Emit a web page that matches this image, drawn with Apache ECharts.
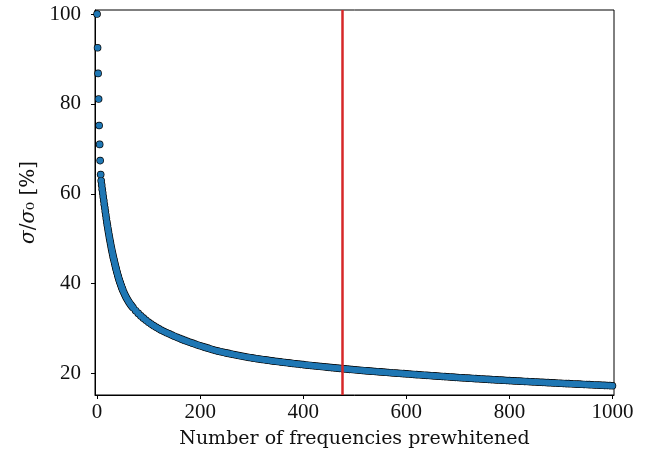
<!DOCTYPE html>
<html>
<head>
<meta charset="utf-8">
<script src="https://cdn.jsdelivr.net/npm/echarts@6/dist/echarts.min.js"></script>
<style>
html,body{margin:0;padding:0;background:#fff;}
#chart{width:656px;height:459px;}
</style>
</head>
<body>
<div id="chart"></div>
<script>
const frequencies = [
  0,1,2,3,4,5,6,7,8,9,10,11,12,13,14,15,16,17,18,19,20,21,22,23,24,25,26,27,28,29,30,
  31,32,33,34,35,36,37,38,39,40,41,42,43,44,45,46,47,48,49,50,
  52,54,56,58,60,62,64,66,68,70,
  75,80,85,90,95,100,105,110,115,120,125,130,135,140,145,150,155,160,165,170,175,180,185,190,195,200,
  205,210,215,220,225,230,235,240,245,250,255,260,265,270,275,280,285,290,295,300,
  305,310,315,320,325,330,335,340,345,350,355,360,365,370,375,380,385,390,395,400,
  405,410,415,420,425,430,435,440,445,450,455,460,465,470,475,480,485,490,495,500,
  505,510,515,520,525,530,535,540,545,550,555,560,565,570,575,580,585,590,595,600,
  605,610,615,620,625,630,635,640,645,650,655,660,665,670,675,680,685,690,695,700,
  705,710,715,720,725,730,735,740,745,750,755,760,765,770,775,780,785,790,795,800,
  805,810,815,820,825,830,835,840,845,850,855,860,865,870,875,880,885,890,895,900,
  905,910,915,920,925,930,935,940,945,950,955,960,965,970,975,980,985,990,995,1000
];
// sigma / sigma_0 [%]
const sigmaRatio = [
  100,92.5,86.8,81.1,75.2,71.0,67.4,64.3,62.9,61.95,61.05,60.2,59.35,58.5,57.7,56.9,56.1,55.3,54.5,53.7,53.0,52.3,51.6,50.95,50.3,49.65,49.05,48.45,47.85,47.3,46.75,
  46.2,45.7,45.2,44.7,44.22,43.75,43.3,42.85,42.42,42.0,41.6,41.22,40.85,40.5,40.15,39.82,39.5,39.18,38.88,38.58,
  38.03,37.53,37.07,36.65,36.26,35.9,35.56,35.24,34.94,34.65,
  34.0,33.4,32.85,32.35,31.87,31.42,31.02,30.65,30.3,29.97,29.66,29.38,29.1,28.85,28.58,28.33,28.08,27.85,27.62,27.4,27.19,26.98,26.78,26.58,26.39,26.2,
  26.02,25.84,25.67,25.5,25.32,25.15,25.01,24.88,24.75,24.62,24.5,24.38,24.26,24.15,24.03,23.92,23.81,23.7,23.6,23.51,
  23.42,23.33,23.24,23.16,23.08,23.0,22.92,22.84,22.76,22.69,22.62,22.55,22.48,22.41,22.34,22.27,22.2,22.14,22.07,22.01,
  21.94,21.88,21.82,21.76,21.7,21.64,21.58,21.52,21.46,21.4,21.35,21.29,21.23,21.18,21.12,21.07,21.01,20.96,20.91,20.86,
  20.81,20.76,20.71,20.66,20.61,20.57,20.52,20.48,20.43,20.39,20.34,20.3,20.25,20.21,20.16,20.12,20.08,20.04,20.0,19.96,
  19.91,19.87,19.82,19.78,19.74,19.7,19.66,19.62,19.58,19.54,19.5,19.46,19.42,19.38,19.34,19.3,19.26,19.22,19.18,19.14,
  19.1,19.07,19.03,19.0,18.96,18.93,18.89,18.86,18.82,18.79,18.75,18.72,18.68,18.65,18.61,18.58,18.55,18.52,18.48,18.45,
  18.42,18.39,18.36,18.33,18.3,18.27,18.24,18.21,18.18,18.15,18.12,18.09,18.06,18.03,18.0,17.97,17.94,17.91,17.88,17.85,
  17.82,17.79,17.77,17.74,17.71,17.68,17.66,17.63,17.6,17.57,17.55,17.52,17.49,17.46,17.44,17.41,17.39,17.36,17.34,17.31
];
const xTicks = [0,200,400,600,800,1000];
const yTicks = [20,40,60,80,100];
const prewhitenLimit = 476;

const points = frequencies.map((f, i) => [f, sigmaRatio[i]]);
const serif = '"Liberation Serif", "DejaVu Serif", serif';
const nameFont = '"DejaVu Serif", "Liberation Serif", serif';

const chart = echarts.init(document.getElementById('chart'), null, {renderer: 'canvas'});
chart.setOption({
  animation: false,
  backgroundColor: '#fff',
  grid: {left: 95, right: 42, top: 10, bottom: 64, show: true, borderColor: '#000', borderWidth: 1, backgroundColor: 'transparent'},
  xAxis: {
    type: 'value', min: -4, max: 1003,
    name: 'Number of frequencies prewhitened',
    nameLocation: 'middle', nameGap: 35,
    nameTextStyle: {fontFamily: nameFont, fontSize: 19, color: '#111'},
    axisLine: {show: true, onZero: false, lineStyle: {color: '#000', width: 1}},
    axisTick: {show: true, inside: false, length: 4, lineStyle: {color: '#000'}, customValues: xTicks},
    axisLabel: {fontFamily: serif, fontSize: 21, color: '#111', margin: 7, customValues: xTicks, formatter: v => String(v)},
    splitLine: {show: false}
  },
  yAxis: {
    type: 'value', min: 15.25, max: 100.9,
    name: '{i|σ}/{i|σ}₀ [%]',
    nameLocation: 'middle', nameGap: 53, nameRotate: 90,
    nameTextStyle: {fontFamily: nameFont, fontSize: 20, color: '#111', rich: {i: {fontFamily: nameFont, fontSize: 20, fontStyle: 'italic', color: '#111'}}},
    axisLine: {show: true, onZero: false, lineStyle: {color: '#000', width: 1}},
    axisTick: {show: true, inside: false, length: 4, lineStyle: {color: '#000'}, customValues: yTicks},
    axisLabel: {fontFamily: serif, fontSize: 21, color: '#111', margin: 14, customValues: yTicks, formatter: v => String(v)},
    splitLine: {show: false}
  },
  series: [{
    type: 'scatter',
    data: points,
    symbol: 'circle',
    symbolSize: 7.6,
    itemStyle: {color: '#000', opacity: 1},
    silent: true
  }, {
    type: 'scatter',
    data: points,
    symbol: 'circle',
    symbolSize: 6.2,
    itemStyle: {color: '#1f77b4', opacity: 1},
    markLine: {
      silent: true,
      symbol: ['none', 'none'],
      label: {show: false},
      lineStyle: {color: '#d62728', width: 2.5, type: 'solid'},
      data: [{xAxis: prewhitenLimit}]
    }
  }]
});
</script>
</body>
</html>
